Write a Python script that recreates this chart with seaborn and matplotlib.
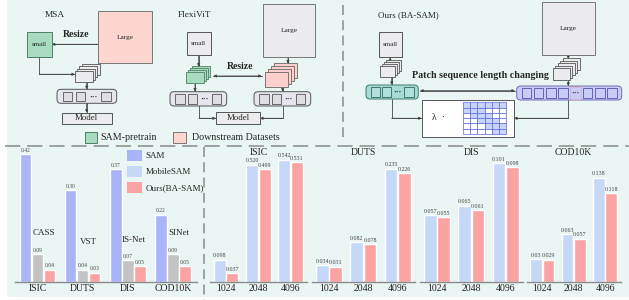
# Error comparison figure: resize schemes (top) and bar charts (bottom).
import matplotlib
matplotlib.use("Agg")
import matplotlib.pyplot as plt
import seaborn as sns
import pandas as pd
from matplotlib.patches import Rectangle, FancyBboxPatch, Patch

# ---------------- data ----------------
datasets = ["ISIC", "DUTS", "DIS", "COD10K"]
sam_err = [0.42, 0.30, 0.37, 0.22]
sota_err = [0.09, 0.04, 0.07, 0.09]
ours_err = [0.04, 0.03, 0.05, 0.05]
sota_names = ["CASS", "VST", "IS-Net", "SINet"]
method_names = ["SAM", "MobileSAM", "Ours(BA-SAM)"]

resolutions = ["1024", "2048", "4096"]
isic_mobile = ["0.098", "0.520", "0.542"]
isic_ours = ["0.037", "0.499", "0.531"]
duts_mobile = ["0.034", "0.082", "0.235"]
duts_ours = ["0.031", "0.078", "0.226"]
dis_mobile = ["0.057", "0.065", "0.101"]
dis_ours = ["0.055", "0.061", "0.098"]
cod_mobile = ["0.03", "0.063", "0.138"]
cod_ours = ["0.029", "0.057", "0.118"]

# ---------------- style ----------------
sns.set_theme(style="white")
plt.rcParams["font.family"] = ["Liberation Serif", "DejaVu Serif"]

MINT = "#eaf6f3"
C_SAM = "#aab4f8"
C_SOTA = "#c3c3c3"
C_MOBILE = "#c6d8f8"
C_OURS = "#fba3a3"
DASH = "#8a8a8a"
LINE = "#444444"

W, H = 629, 300
fig = plt.figure(figsize=(W / 100, H / 100), dpi=100)

# background axes in pixel coordinates (y downwards)
ax0 = fig.add_axes([0, 0, 1, 1])
ax0.set_xlim(0, W)
ax0.set_ylim(H, 0)
ax0.axis("off")
ax0.add_patch(Rectangle((7, 0), W - 7, 297, facecolor=MINT, edgecolor="none", zorder=0))


def box(x0, y0, x1, y1, fc, ec="#555555", lw=0.7, text=None, size=5, z=3):
    ax0.add_patch(Rectangle((x0, y0), x1 - x0, y1 - y0, facecolor=fc,
                            edgecolor=ec, lw=lw, zorder=z))
    if text:
        ax0.text((x0 + x1) / 2, (y0 + y1) / 2, text, ha="center", va="center",
                 fontsize=size, zorder=z + 1)


def stack(x0, y1, w, h, n, step, fc, ec="#555555"):
    # front card sits bottom-left, the others go up-right behind it
    for i in reversed(range(n)):
        box(x0 + i * step, y1 - h - i * step, x0 + w + i * step, y1 - i * step,
            fc, ec, lw=0.6, z=3 + (n - i) * 0.1)


def token_row(x0, y0, x1, y1, slots, fc, ec, sfc, sec, m=4.0, sq=9.5):
    ax0.add_patch(FancyBboxPatch((x0, y0), x1 - x0, y1 - y0,
                                 boxstyle="round,pad=0,rounding_size=4",
                                 facecolor=fc, edgecolor=ec, lw=0.7, zorder=3))
    pitch = (x1 - x0 - 2 * m) / len(slots)
    cy = (y0 + y1) / 2
    for k, s in enumerate(slots):
        cx = x0 + m + pitch * (k + 0.5)
        if s == "s":
            box(cx - sq / 2, cy - sq / 2, cx + sq / 2, cy + sq / 2, sfc, sec, lw=0.6, z=4)
        else:
            if s == "D":
                box(cx - sq / 2 - 1, cy - sq / 2 - 1, cx + sq / 2 + 1, cy + sq / 2 + 1,
                    sfc, "#e2b4c4", lw=0.6, z=4)
            ax0.text(cx, cy, "···", ha="center", va="center", fontsize=6,
                     fontweight="bold", color="#333333", zorder=5)


def arrow(xs, ys, both=False):
    ax0.plot(xs, ys, color=LINE, lw=0.6, zorder=2)
    style = "<|-|>" if both else "-|>"
    ax0.annotate("", xy=(xs[-1], ys[-1]), xytext=(xs[-2], ys[-2]),
                 arrowprops=dict(arrowstyle=style, color=LINE, lw=0.6,
                                 mutation_scale=4, shrinkA=0, shrinkB=0), zorder=2)


GREY_BOX = "#ececee"
ROW_FC, ROW_SQ = "#e6e6ee", "#dedee3"

# ---------------- MSA ----------------
ax0.text(55, 15, "MSA", ha="center", va="center", fontsize=6.7)
box(26.7, 31.7, 51.7, 56.7, "#a8dcc0", "#4f7f66", text="small", size=5)
box(98.3, 10.7, 151.7, 63.3, "#fdd6d0", "#777777", text="Large", size=5.3)
ax0.text(76.3, 34.3, "Resize", ha="center", va="center", fontsize=7, fontweight="bold")
arrow([98.3, 51.7], [44.3, 44.3])
arrow([39.3, 39.3, 75], [56.7, 74.3, 74.3])
stack(75, 81.7, 18, 11, 4, 2.2, GREY_BOX)
arrow([86.7, 86.7], [81.7, 89.3])
token_row(57, 89.3, 116.7, 103.3, ["s", "s", "d", "s"], ROW_FC, "#555555", ROW_SQ, "#555555")
arrow([86.7, 86.7], [103.3, 112.7])
box(61.7, 112.7, 111.7, 124, GREY_BOX, text="Model", size=6.3)

# ---------------- FlexiViT ----------------
ax0.text(194.5, 15, "FlexiViT", ha="center", va="center", fontsize=6.7)
box(186.7, 32.3, 210.7, 55, GREY_BOX, text="small", size=5)
arrow([198.7, 198.7], [55, 66.7])
stack(186, 83.3, 18, 11, 4, 2.0, "#a8dcc0", "#4f7f66")
arrow([195, 195], [83.3, 91.7])
token_row(170, 91.7, 226.7, 106, ["s", "s", "d", "s"], ROW_FC, "#555555", ROW_SQ, "#555555")
box(262.7, 4.3, 315, 57.3, GREY_BOX, "#777777", text="Large", size=5.3)
arrow([288, 288], [57.3, 63.7])
stack(265, 86.7, 23, 15, 4, 3.0, "#fdd0cc", "#666666")
arrow([282.7, 282.7], [86.7, 91.7])
token_row(254, 91.7, 310.7, 106, ["s", "s", "d", "s"], ROW_FC, "#555555", ROW_SQ, "#555555")
arrow([213.3, 261.7], [76, 76], both=True)
ax0.text(239.7, 66.7, "Resize", ha="center", va="center", fontsize=7, fontweight="bold")
box(216, 112.3, 260, 124, GREY_BOX, text="Model", size=6.3)
arrow([199, 199, 216], [106, 118.3, 118.3])
arrow([282.7, 282.7, 260], [106, 118.3, 118.3])

# legend of the top part
box(85, 131.7, 97, 142.7, "#a8dcc0", "#4f7f66")
ax0.text(100, 137, "SAM-pretrain", ha="left", va="center", fontsize=7.2)
box(173.3, 131.7, 186.3, 142.7, "#fdd6d0", "#777777")
ax0.text(191.7, 137, "Downstream Datasets", ha="left", va="center", fontsize=7.2)

# ---------------- Ours (BA-SAM) ----------------
ax0.text(408.7, 15, "Ours (BA-SAM)", ha="center", va="center", fontsize=6.5)
box(379, 32.3, 401.7, 57.3, GREY_BOX, text="small", size=5)
arrow([390, 390], [57.3, 63])
stack(380, 77.3, 15, 11, 4, 2.0, GREY_BOX)
arrow([391.7, 391.7], [77.3, 85])
token_row(366, 85, 418.3, 99, ["s", "s", "d", "s"], "#a6dcd4", "#3d7d74", "#b0e0da", "#2e6b63")
box(542.3, 2.3, 595, 55, GREY_BOX, "#777777", text="Large", size=5.3)
arrow([568.3, 568.3], [55, 59])
stack(552.7, 80, 17, 12, 5, 2.5, GREY_BOX)
arrow([568.3, 568.3], [80, 86])
token_row(516.7, 86, 621.7, 100, ["s", "s", "s", "s", "D", "s", "s", "s"],
          "#c9cbf8", "#6c6cb8", "#c9cbf8", "#5555a8", m=3.5, sq=9.5)
ax0.text(480, 75, "Patch sequence length changing", ha="center", va="center",
         fontsize=7.2, fontweight="bold")
arrow([420, 515], [90.7, 90.7], both=True)
box(421.7, 100, 514, 137.3, "white", "#555555", lw=0.7)
ax0.text(438, 118, "λ  ·", ha="center", va="center", fontsize=7, zorder=5)
gx0, gx1, gy0, gy1 = 463.3, 505.7, 102.3, 134
cw, ch = (gx1 - gx0) / 6, (gy1 - gy0) / 6
for i in range(6):
    for j in range(6):
        fc = "#c8d4f8" if (i == 0 or abs(i - j) <= 1) else "white"
        box(gx0 + j * cw, gy0 + i * ch, gx0 + (j + 1) * cw, gy0 + (i + 1) * ch,
            fc, "#5a6ad8", lw=0.5, z=5)
arrow([391.7, 391.7, 421.7], [99, 118.3, 118.3])
arrow([568.3, 568.3, 514], [100, 118.3, 118.3])

# ---------------- dashed separators ----------------
ax0.plot([5, W], [145.7, 145.7], color=DASH, lw=1.1, ls=(0, (10, 4.5)), zorder=1)
ax0.plot([204, 204], [147, 300], color=DASH, lw=1.1, ls=(0, (6.5, 3.5)), zorder=1)
ax0.plot([343.3, 343.3], [5, 137], color=DASH, lw=1.1, ls=(0, (6.5, 3.5)), zorder=1)


# ---------------- bar charts ----------------
def px_axes(x0, x1, y0, y1):
    a = fig.add_axes([x0 / W, 1 - y1 / H, (x1 - x0) / W, (y1 - y0) / H])
    a.set_facecolor("none")
    for s in ["top", "left", "right"]:
        a.spines[s].set_visible(False)
    a.spines["bottom"].set_color("#8a8a8a")
    a.spines["bottom"].set_linewidth(1.0)
    a.set_yticks([])
    a.tick_params(axis="x", length=0, pad=2, labelsize=7, labelcolor="#222222")
    return a


# left panel: SAM vs specialist vs ours
left = pd.DataFrame({
    "dataset": datasets * 3,
    "method": [m for m in method_names for _ in datasets],
    "err": sam_err + sota_err + ours_err,
})
axl = px_axes(15, 197, 150, 281.7)
sns.barplot(data=left, x="dataset", y="err", hue="method", hue_order=method_names,
            order=datasets, palette=[C_SAM, C_SOTA, C_OURS], saturation=1,
            width=0.8, gap=0.06, errorbar=None, legend=False, ax=axl)
for cont in axl.containers:
    axl.bar_label(cont, fmt="%.2f", padding=1, fontsize=4, color="#444444")
axl.set_xlim(-0.5, 3.53)
axl.set_ylim(0, 0.433)
axl.set_xlabel("")
axl.set_ylabel("")
name_y = [0.16, 0.132, 0.137, 0.16]
for i, name in enumerate(sota_names):
    axl.text(i + 0.13, name_y[i], name, ha="center", va="center", fontsize=6.5)
handles = [Patch(facecolor=c, edgecolor="none") for c in [C_SAM, C_MOBILE, C_OURS]]
axl.legend(handles, method_names, loc="upper left", bbox_to_anchor=(0.614, 1.0),
           frameon=False, fontsize=6.5, handlelength=1.66, handleheight=1.44,
           handletextpad=0.45, labelspacing=0.6, borderpad=0, borderaxespad=0)

# right panels: MobileSAM vs ours at growing resolution
panels = [
    ("ISIC", isic_mobile, isic_ours, (210, 306.7), 0.585),
    ("DUTS", duts_mobile, duts_ours, (311.7, 415), 0.274),
    ("DIS", dis_mobile, dis_ours, (420, 522.7), 0.1125),
    ("COD10K", cod_mobile, cod_ours, (526.7, 620.7), 0.175),
]
for name, mob, ours, (x0, x1), top in panels:
    df = pd.DataFrame({
        "res": resolutions * 2,
        "model": ["MobileSAM"] * 3 + ["Ours"] * 3,
        "err": [float(v) for v in mob + ours],
    })
    ax = px_axes(x0, x1, 150, 281.7)
    sns.barplot(data=df, x="res", y="err", hue="model", order=resolutions,
                palette=[C_MOBILE, C_OURS], saturation=1, width=0.78, gap=0.05,
                errorbar=None, legend=False, ax=ax)
    for cont, labs in zip(ax.containers, [mob, ours]):
        ax.bar_label(cont, labels=labs, padding=1, fontsize=4.3, color="#444444")
    ax.set_xlim(-0.5, 2.5)
    ax.set_ylim(0, top)
    ax.set_xlabel("")
    ax.set_ylabel("")
    ax.set_title(name, y=0.983, pad=0, va="center", fontsize=7)

fig.savefig("out.png", dpi=100)
